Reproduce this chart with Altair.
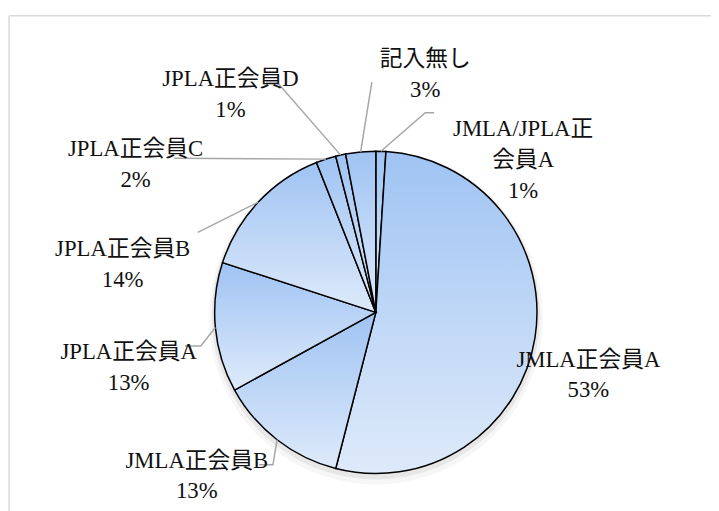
import math
import altair as alt
import pandas as pd

# ---- data ----
categories = ["JMLA/JPLA正会員A", "JMLA正会員A", "JMLA正会員B", "JPLA正会員A",
              "JPLA正会員B", "JPLA正会員C", "JPLA正会員D", "記入無し"]
values = [1, 53, 13, 13, 14, 2, 1, 3]
name_lines = [["JMLA/JPLA正", "会員A"], ["JMLA正会員A"], ["JMLA正会員B"], ["JPLA正会員A"],
              ["JPLA正会員B"], ["JPLA正会員C"], ["JPLA正会員D"], ["記入無し"]]

# ---- layout (pixels, relative to pie centre) ----
CX, CY, R = 372, 305, 163
label_offset = {
    "JMLA/JPLA正会員A": (149, -185),
    "JMLA正会員A": (215, 48),
    "JMLA正会員B": (-181, 150),
    "JPLA正会員A": (-250, 40),
    "JPLA正会員B": (-256, -64),
    "JPLA正会員C": (-243, -165),
    "JPLA正会員D": (-147, -236),
    "記入無し": (50, -256),
}
leader_bends = {
    "JMLA/JPLA正会員A": [(50, -202), (59, -202)],
    "記入無し": [(-4, -233)],
    "JPLA正会員D": [(-100, -233), (-111, -233)],
    "JPLA正会員C": [(-204, -156)],
    "JPLA正会員B": [(-180, -81)],
    "JPLA正会員A": [(-177, 34), (-193, 34)],
    "JMLA正会員B": [(-104, 154), (-118, 154)],
}

FONT = "'Liberation Serif', 'Noto Sans CJK JP', serif"

df = pd.DataFrame({"category": categories, "value": values, "idx": list(range(len(values)))})

total = float(sum(values))
cum = 0.0
label_rows, line_rows = [], []
for i, (c, v) in enumerate(zip(categories, values)):
    mid = (cum + v / 2.0) / total * 2 * math.pi
    cum += v
    dx, dy = label_offset[c]
    label_rows.append({"category": c, "text": name_lines[i] + [f"{v}%"], "x": CX + dx, "y": CY + dy})
    bends = leader_bends.get(c)
    if bends:
        pts = [(CX + R * math.sin(mid), CY - R * math.cos(mid))] + [(CX + bx, CY + by) for bx, by in bends]
        for k, (px, py) in enumerate(pts):
            line_rows.append({"category": c, "k": k, "x": px, "y": py})

one = pd.DataFrame({"s": [0]})

gradient = alt.LinearGradient(
    gradient="linear",
    stops=[alt.GradientStop(color="#9fc3f3", offset=0),
           alt.GradientStop(color="#deeafa", offset=1)],
    x1=0, x2=0, y1=0, y2=1,
)

border_top = alt.Chart(one).mark_rule(color="#d9d9d9", strokeWidth=1.5).encode(
    x=alt.value(1), x2=alt.value(720), y=alt.value(5))
border_left = alt.Chart(one).mark_rule(color="#d9d9d9", strokeWidth=1.5).encode(
    x=alt.value(1), y=alt.value(5), y2=alt.value(510))

shadow1 = alt.Chart(one).mark_arc(theta=0, theta2=2 * math.pi, radius=R + 6, fill="black", opacity=0.035).encode(
    x=alt.value(CX), y=alt.value(CY + 5))
shadow2 = alt.Chart(one).mark_arc(theta=0, theta2=2 * math.pi, radius=R + 3, fill="black", opacity=0.06).encode(
    x=alt.value(CX), y=alt.value(CY + 3))

pie = alt.Chart(df).mark_arc(radius=R, fill=gradient, stroke="black", strokeWidth=1.5).encode(
    theta=alt.Theta("value:Q", stack=True),
    order=alt.Order("idx:Q"),
    x=alt.value(CX), y=alt.value(CY),
)

leaders = alt.Chart(alt.Data(values=line_rows)).mark_line(color="#a6a6a6", strokeWidth=1.5).encode(
    x=alt.X("x:Q", scale=None, axis=None),
    y=alt.Y("y:Q", scale=None, axis=None),
    detail="category:N",
    order="k:Q",
)

labels = alt.Chart(alt.Data(values=label_rows)).mark_text(
    font=FONT, fontSize=23, lineHeight=31, align="center", baseline="middle", color="#111111"
).encode(
    x=alt.X("x:Q", scale=None, axis=None),
    y=alt.Y("y:Q", scale=None, axis=None),
    text="text:N",
)

chart = alt.layer(border_top, border_left, shadow1, shadow2, pie, leaders, labels).properties(
    width=711, height=503, autosize="none", padding=0, background="white"
).configure_view(strokeWidth=0)

chart.save("out.html", embed_options={"renderer": "svg", "actions": False})
